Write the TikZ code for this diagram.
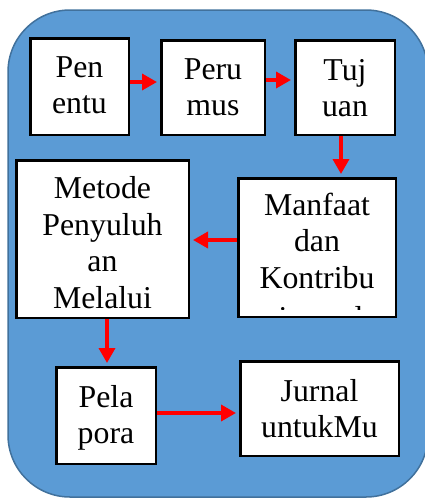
\documentclass[tikz,border=0pt]{standalone}
\usepackage{fontspec}
\setmainfont{Liberation Serif}
\newfontfamily\boxfont{Liberation Serif}
\usetikzlibrary{arrows.meta,calc}
\definecolor{bgblue}{HTML}{5B9BD5}
\definecolor{bgedge}{HTML}{41719C}
\definecolor{arrred}{HTML}{FF0000}
\newcommand{\flowbox}[5]{% name, x1, y1, x2, y2 (pixel coords)
  \node[boxnode, minimum width={#4-#2-2.5pt}, minimum height={#5-#3-2.5pt}] (#1) at ({(#2+#4)/2},{(#3+#5)/2}) {};}
\newcommand{\flowtext}[5]{% name, x, first baseline y, width, text
  \node[txtnode] (#1) at (#2,#3) {\parbox[t]{#4pt}{\centering #5}};}
\begin{document}
\begin{tikzpicture}[x=1pt,y=-1pt,
  boxnode/.style={draw=black, line width=2.5pt, fill=white, inner sep=0pt, rectangle},
  txtnode/.style={inner sep=0pt, anchor=base, font=\boxfont\fontsize{31.8}{36.6}\selectfont},
  flow/.style={draw=arrred, line width=3.5pt, -{Triangle[length=15pt,width=16pt]}, shorten >=3pt}]
\useasboundingbox (0,0) rectangle (425,499);
\draw[fill=bgblue, draw=bgedge, line width=1.5pt, rounded corners=62pt] (8,10) rectangle (428,497);
% boxes
\flowbox{pen}{29}{37}{130}{136}
\flowbox{peru}{160}{39}{266}{136}
\flowbox{tuj}{294}{39}{396}{136}
\flowbox{met}{15}{159}{190}{319}
\flowbox{man}{237}{177}{397}{318}
\flowbox{pela}{55}{366}{157}{465}
\flowbox{jur}{239}{360}{400}{457}
% texts
\flowtext{pent}{79.5}{77}{100}{Pen\\entu}
\flowtext{perut}{213}{79}{100}{Peru\\mus}
\flowtext{tujt}{345}{80}{100}{Tuj\\uan}
\flowtext{mett}{102.5}{198.5}{172}{Metode\\Penyuluh\\an\\Melalui}
\flowtext{mant}{317}{215}{156}{Manfaat\\dan\\Kontribu}
\flowtext{pelat}{106}{407}{100}{Pela\\pora}
\flowtext{jurt}{319.5}{401}{158}{Jurnal\\untukMu}
\begin{scope}
  \clip (240,290) rectangle (394,309.5);
  \node[txtnode] (fragi) at (283,328) {i};
  \node[txtnode] (fragl) at (359,328) {l};
\end{scope}
% connectors
\draw[flow] ([yshift=4.5pt]pen.east) -- ([yshift=4.5pt]pen.east -| peru.west);
\draw[flow] ([yshift=7.5pt]peru.east) -- ([yshift=7.5pt]peru.east -| tuj.west);
\draw[flow] ([xshift=-4pt]tuj.south) -- ([xshift=-4pt]tuj.south |- man.north);
\draw[flow] ([yshift=7.5pt]man.west) -- ([yshift=7.5pt]man.west -| met.east);
\draw[flow] ([xshift=4.5pt]met.south) -- ([xshift=4.5pt]met.south |- pela.north);
\draw[flow] ([yshift=2.5pt]pela.east) -- ([yshift=2.5pt]pela.east -| jur.west);
\end{tikzpicture}
\end{document}
